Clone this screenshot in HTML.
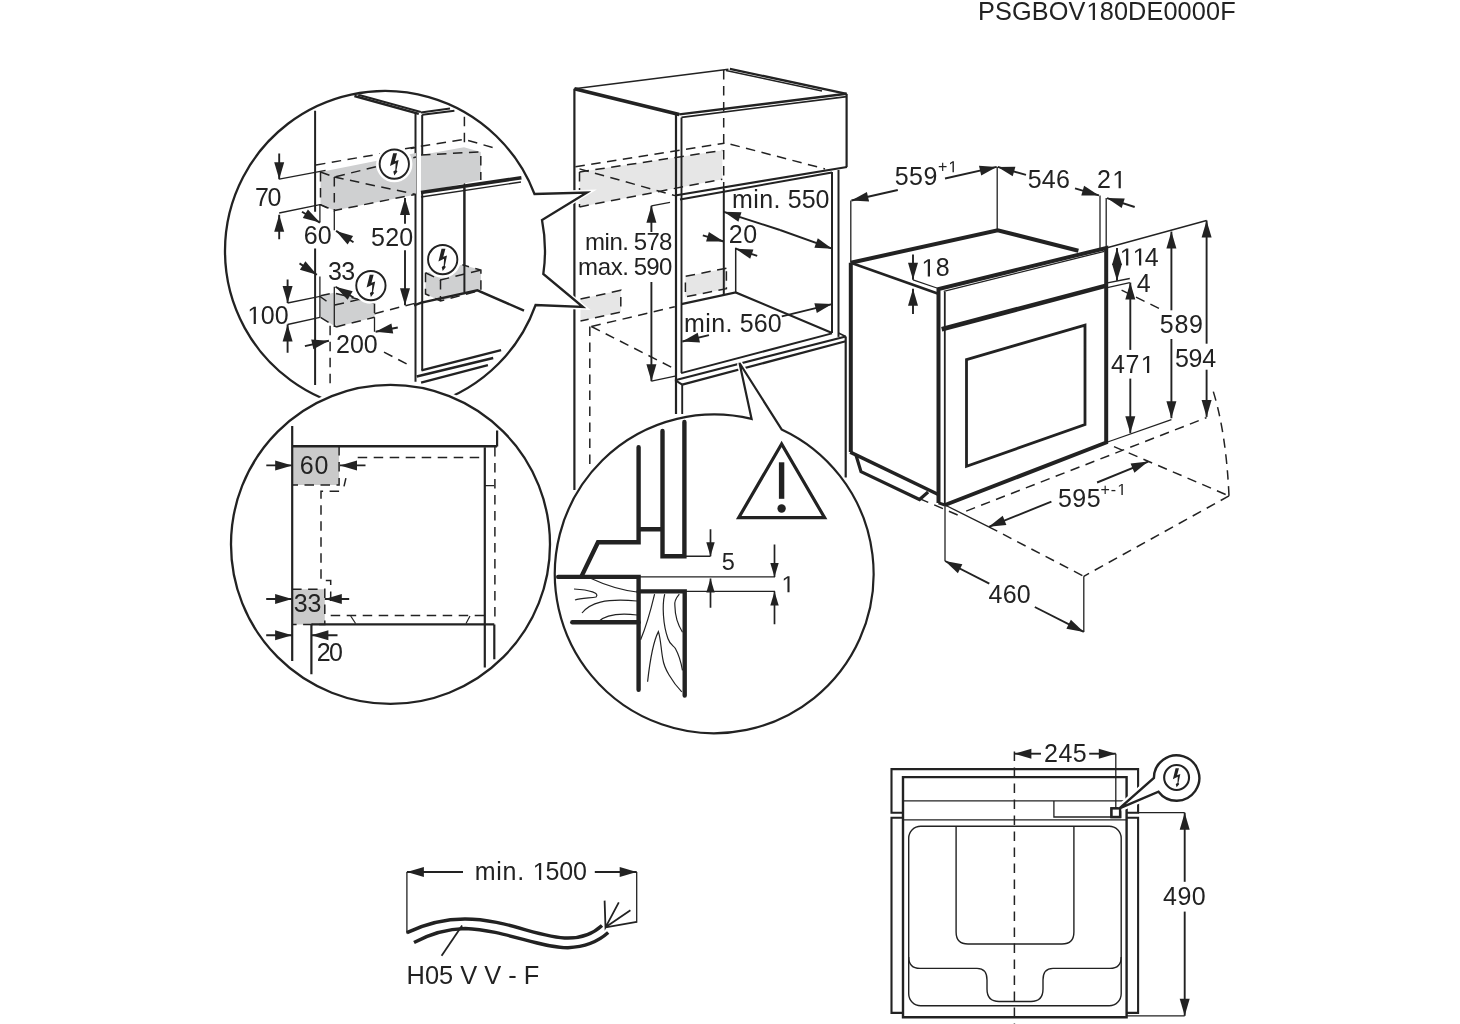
<!DOCTYPE html>
<html><head><meta charset="utf-8"><style>
html,body{margin:0;padding:0;background:#fff;}
svg{display:block;filter:blur(0.35px);}
text{font-family:"Liberation Sans",sans-serif;fill:#222;stroke:none;}
</style></head><body>
<svg width="1460" height="1024" viewBox="0 0 1460 1024" stroke="#222" fill="none">
<polygon points="1088.80,7.62 1088.80,5.52 1092.91,2.69 1094.96,2.69 1094.96,20.10 1092.73,20.10 1092.73,4.82" fill="#222" stroke="none"/>
<text x="978.02 995.01 1011.99 1031.78 1048.76 1068.55 1099.72 1113.90 1128.08 1146.46 1163.44 1177.62 1191.80 1205.98 1220.16" y="20.10" font-size="25.3">PSGBOV80DE0000F</text>
<polygon points="579.5,172.0 722.3,150.4 722.3,179.2 579.5,206.9" fill="#e6e6e6" stroke="none"/>
<polygon points="685.4,276.4 726.4,268.2 726.4,288.7 685.4,296.9" fill="#e6e6e6" stroke="none"/>
<polygon points="580.5,299.1 620.8,290.3 620.8,312.1 580.5,321.0" fill="#e6e6e6" stroke="none"/>
<line x1="574.4" y1="88.8" x2="728.5" y2="69.2" stroke-width="1.5" stroke-linecap="butt"/>
<line x1="729.9" y1="68.9" x2="846.6" y2="93.8" stroke-width="2.4" stroke-linecap="butt"/>
<line x1="726.0" y1="70.4" x2="822.0" y2="90.9" stroke-width="1.5" stroke-linecap="butt"/>
<line x1="574.4" y1="88.8" x2="679.2" y2="114.4" stroke-width="3.6" stroke-linecap="butt"/>
<line x1="679.2" y1="114.4" x2="846.6" y2="93.8" stroke-width="2.4" stroke-linecap="butt"/>
<line x1="681.5" y1="117.4" x2="846.6" y2="96.6" stroke-width="1.7" stroke-linecap="butt"/>
<line x1="574.4" y1="88.8" x2="574.4" y2="490.0" stroke-width="2.2" stroke-linecap="butt"/>
<line x1="676.0" y1="114.0" x2="676.0" y2="414.0" stroke-width="2.2" stroke-linecap="butt"/>
<line x1="681.5" y1="117.4" x2="681.5" y2="373.1" stroke-width="1.9" stroke-linecap="butt"/>
<line x1="682.2" y1="384.6" x2="682.2" y2="414.0" stroke-width="1.9" stroke-linecap="butt"/>
<line x1="846.6" y1="93.9" x2="846.6" y2="167.0" stroke-width="2.2" stroke-linecap="butt"/>
<line x1="675.0" y1="195.5" x2="847.0" y2="167.0" stroke-width="2.2" stroke-linecap="butt"/>
<line x1="680.0" y1="199.5" x2="832.0" y2="172.5" stroke-width="2.0" stroke-linecap="butt"/>
<polyline points="575.4,166.8 724.4,143.2" stroke-width="1.5" stroke-dasharray="9.5 6.5" fill="none" stroke-linecap="butt" stroke-linejoin="miter"/>
<polyline points="579.5,172.0 722.3,150.4" stroke-width="1.5" stroke-dasharray="9.5 6.5" fill="none" stroke-linecap="butt" stroke-linejoin="miter"/>
<polyline points="579.5,168.9 675.0,195.6" stroke-width="1.5" stroke-dasharray="9.5 6.5" fill="none" stroke-linecap="butt" stroke-linejoin="miter"/>
<polyline points="579.5,206.9 722.3,179.2" stroke-width="1.5" stroke-dasharray="9.5 6.5" fill="none" stroke-linecap="butt" stroke-linejoin="miter"/>
<polyline points="579.5,172.0 579.5,206.9" stroke-width="1.5" stroke-dasharray="9.5 6.5" fill="none" stroke-linecap="butt" stroke-linejoin="miter"/>
<polyline points="730.5,144.2 825.0,168.9" stroke-width="1.5" stroke-dasharray="9.5 6.5" fill="none" stroke-linecap="butt" stroke-linejoin="miter"/>
<polyline points="723.7,70.0 723.7,189.0" stroke-width="1.5" stroke-dasharray="9.5 6.5" fill="none" stroke-linecap="butt" stroke-linejoin="miter"/>
<line x1="832.0" y1="172.0" x2="832.0" y2="333.0" stroke-width="2.0" stroke-linecap="butt"/>
<line x1="838.5" y1="170.0" x2="838.5" y2="336.9" stroke-width="2.0" stroke-linecap="butt"/>
<line x1="723.8" y1="189.0" x2="723.8" y2="295.0" stroke-width="2.0" stroke-linecap="butt"/>
<line x1="735.7" y1="247.7" x2="735.7" y2="292.4" stroke-width="1.5" stroke-linecap="butt"/>
<polyline points="681.3,304.1 735.7,292.4 832.1,332.9" stroke-width="2.2" fill="none" stroke-linecap="butt" stroke-linejoin="miter"/>
<polyline points="726.4,268.2 685.4,276.4 685.4,296.9 726.4,288.7 726.4,268.2" stroke-width="1.5" stroke-dasharray="9.5 6.5" fill="none" stroke-linecap="butt" stroke-linejoin="miter"/>
<line x1="681.1" y1="373.1" x2="832.0" y2="333.4" stroke-width="2.0" stroke-linecap="butt"/>
<line x1="675.1" y1="380.2" x2="845.7" y2="336.5" stroke-width="2.2" stroke-linecap="butt"/>
<line x1="675.1" y1="380.2" x2="682.2" y2="384.6" stroke-width="2.0" stroke-linecap="butt"/>
<line x1="682.2" y1="384.6" x2="845.7" y2="341.3" stroke-width="2.2" stroke-linecap="butt"/>
<line x1="845.7" y1="336.5" x2="845.7" y2="477.5" stroke-width="2.2" stroke-linecap="butt"/>
<line x1="838.5" y1="333.0" x2="845.7" y2="336.5" stroke-width="1.6" stroke-linecap="butt"/>
<polyline points="580.5,299.1 620.8,290.3 620.8,312.1 580.5,321.0" stroke-width="1.5" stroke-dasharray="9.5 6.5" fill="none" stroke-linecap="butt" stroke-linejoin="miter"/>
<polyline points="591.4,326.5 674.8,306.7" stroke-width="1.5" stroke-dasharray="9.5 6.5" fill="none" stroke-linecap="butt" stroke-linejoin="miter"/>
<polyline points="589.8,326.5 589.8,470.0" stroke-width="1.5" stroke-dasharray="9.5 6.5" fill="none" stroke-linecap="butt" stroke-linejoin="miter"/>
<polyline points="591.4,326.5 674.8,368.9" stroke-width="1.5" stroke-dasharray="9.5 6.5" fill="none" stroke-linecap="butt" stroke-linejoin="miter"/>
<text x="731.94 753.17 759.13 773.44" y="207.70" font-size="25">min.</text>
<text x="787.70 801.64 815.57" y="207.70" font-size="25">550</text>
<line x1="780.0" y1="230.0" x2="723.8" y2="211.8" stroke-width="1.9" stroke-linecap="butt"/>
<polygon points="723.8,211.8 741.5,212.3 738.4,221.8" fill="#222" stroke="none"/>
<line x1="780.0" y1="230.0" x2="832.1" y2="248.7" stroke-width="1.9" stroke-linecap="butt"/>
<polygon points="832.1,248.7 814.4,247.7 817.8,238.3" fill="#222" stroke="none"/>
<text x="728.84 743.32" y="243.30" font-size="25">20</text>
<line x1="702.8" y1="235.4" x2="723.8" y2="241.5" stroke-width="1.9" stroke-linecap="butt"/>
<polygon points="723.8,241.5 706.1,241.6 708.9,232.0" fill="#222" stroke="none"/>
<line x1="757.2" y1="255.9" x2="735.7" y2="248.7" stroke-width="1.9" stroke-linecap="butt"/>
<polygon points="735.7,248.7 753.4,249.4 750.2,258.8" fill="#222" stroke="none"/>
<text x="584.91 604.48 609.39 622.32" y="250.20" font-size="24">min.</text>
<text x="633.74 646.42 659.10" y="250.20" font-size="24">578</text>
<text x="578.11 597.72 610.70 622.32" y="275.30" font-size="24">max.</text>
<text x="633.74 646.36 658.99" y="275.30" font-size="24">590</text>
<line x1="651.4" y1="232.0" x2="651.4" y2="205.8" stroke-width="1.9" stroke-linecap="butt"/>
<polygon points="651.4,205.8 656.4,222.8 646.4,222.8" fill="#222" stroke="none"/>
<line x1="651.4" y1="282.0" x2="651.4" y2="381.2" stroke-width="1.9" stroke-linecap="butt"/>
<polygon points="651.4,381.2 646.4,364.2 656.4,364.2" fill="#222" stroke="none"/>
<line x1="651.4" y1="205.8" x2="670.0" y2="202.3" stroke-width="1.3" stroke-linecap="butt"/>
<line x1="651.4" y1="381.2" x2="675.1" y2="376.1" stroke-width="1.3" stroke-linecap="butt"/>
<text x="684.04 705.24 711.16 725.44" y="331.75" font-size="25">min.</text>
<text x="739.70 753.69 767.67" y="331.75" font-size="25">560</text>
<line x1="709.0" y1="335.1" x2="682.3" y2="341.5" stroke-width="1.9" stroke-linecap="butt"/>
<polygon points="682.3,341.5 697.7,332.7 700.0,342.4" fill="#222" stroke="none"/>
<line x1="781.8" y1="316.4" x2="832.1" y2="304.1" stroke-width="1.9" stroke-linecap="butt"/>
<polygon points="832.1,304.1 816.8,313.0 814.4,303.3" fill="#222" stroke="none"/>
<line x1="850.8" y1="200.5" x2="850.8" y2="262.7" stroke-width="1.3" stroke-linecap="butt"/>
<line x1="997.2" y1="166.9" x2="997.2" y2="229.5" stroke-width="1.3" stroke-linecap="butt"/>
<line x1="1100.0" y1="195.4" x2="1100.0" y2="248.0" stroke-width="1.3" stroke-linecap="butt"/>
<line x1="1106.2" y1="198.1" x2="1106.2" y2="248.0" stroke-width="1.3" stroke-linecap="butt"/>
<polyline points="850.8,262.7 997.7,230.2 1078.4,250.8" stroke-width="4.0" fill="none" stroke-linecap="butt" stroke-linejoin="miter"/>
<line x1="850.8" y1="262.7" x2="937.6" y2="293.5" stroke-width="2.6" stroke-linecap="butt"/>
<polyline points="938.5,502.9 938.5,289.0 1106.2,248.0 1106.2,442.5 945.0,505.0" stroke-width="4.0" fill="none" stroke-linecap="butt" stroke-linejoin="miter"/>
<line x1="944.8" y1="292.0" x2="944.8" y2="505.0" stroke-width="1.8" stroke-linecap="butt"/>
<line x1="941.7" y1="329.3" x2="1106.2" y2="285.6" stroke-width="4.6" stroke-linecap="butt"/>
<line x1="943.7" y1="291.3" x2="1104.4" y2="251.3" stroke-width="1.3" stroke-linecap="butt"/>
<line x1="850.8" y1="262.7" x2="850.8" y2="452.0" stroke-width="4.0" stroke-linecap="butt"/>
<line x1="850.2" y1="452.2" x2="938.3" y2="494.5" stroke-width="3.6" stroke-linecap="butt"/>
<polyline points="856.1,455.5 861.0,471.6 919.5,499.5 928.1,492.0" stroke-width="3.2" fill="none" stroke-linecap="butt" stroke-linejoin="miter"/>
<polyline points="938.5,502.9 945.0,505.0" stroke-width="3.0" fill="none" stroke-linecap="butt" stroke-linejoin="miter"/>
<polygon points="966.5,359.6 1085.0,325.2 1085.0,424.6 966.5,466.2" stroke-width="2.8" fill="none" stroke-linecap="butt" stroke-linejoin="miter"/>
<text x="894.70 909.04 923.38" y="184.70" font-size="25">559</text>
<polygon points="950.00,164.41 950.00,163.08 952.60,161.29 953.90,161.29 953.90,172.30 952.49,172.30 952.49,162.64" fill="#222" stroke="none"/>
<text x="938.02" y="172.30" font-size="16">+</text>
<line x1="897.8" y1="190.0" x2="851.4" y2="200.5" stroke-width="1.9" stroke-linecap="butt"/>
<polygon points="851.4,200.5 866.9,191.9 869.1,201.6" fill="#222" stroke="none"/>
<line x1="945.0" y1="178.5" x2="996.7" y2="166.9" stroke-width="1.9" stroke-linecap="butt"/>
<polygon points="996.7,166.9 981.2,175.5 979.0,165.7" fill="#222" stroke="none"/>
<text x="1027.70 1041.85 1055.99" y="188.30" font-size="25">546</text>
<line x1="1026.0" y1="174.9" x2="997.7" y2="166.9" stroke-width="1.9" stroke-linecap="butt"/>
<polygon points="997.7,166.9 1015.4,166.7 1012.7,176.3" fill="#222" stroke="none"/>
<line x1="1075.0" y1="188.3" x2="1099.0" y2="195.4" stroke-width="1.9" stroke-linecap="butt"/>
<polygon points="1099.0,195.4 1081.3,195.4 1084.1,185.8" fill="#222" stroke="none"/>
<polygon points="1114.71,175.97 1114.71,173.90 1118.77,171.10 1120.80,171.10 1120.80,188.30 1118.59,188.30 1118.59,173.20" fill="#222" stroke="none"/>
<text x="1096.94" y="188.30" font-size="25">2</text>
<line x1="1134.7" y1="207.0" x2="1107.0" y2="198.1" stroke-width="1.9" stroke-linecap="butt"/>
<polygon points="1107.0,198.1 1124.7,198.5 1121.7,208.1" fill="#222" stroke="none"/>
<polygon points="923.90,264.07 923.90,262.00 927.96,259.20 929.99,259.20 929.99,276.40 927.78,276.40 927.78,261.30" fill="#222" stroke="none"/>
<text x="935.68" y="276.40" font-size="25">8</text>
<line x1="913.0" y1="254.5" x2="913.0" y2="279.8" stroke-width="1.9" stroke-linecap="butt"/>
<polygon points="913.0,279.8 908.0,262.8 918.0,262.8" fill="#222" stroke="none"/>
<line x1="913.0" y1="314.0" x2="913.0" y2="288.7" stroke-width="1.9" stroke-linecap="butt"/>
<polygon points="913.0,288.7 918.0,305.7 908.0,305.7" fill="#222" stroke="none"/>
<line x1="913.0" y1="279.8" x2="936.9" y2="288.0" stroke-width="1.3" stroke-linecap="butt"/>
<polygon points="1122.20,253.27 1122.20,251.20 1126.26,248.40 1128.29,248.40 1128.29,265.60 1126.08,265.60 1126.08,250.50" fill="#222" stroke="none"/>
<polygon points="1135.13,253.27 1135.13,251.20 1139.19,248.40 1141.22,248.40 1141.22,265.60 1139.01,265.60 1139.01,250.50" fill="#222" stroke="none"/>
<text x="1144.83" y="265.60" font-size="25">4</text>
<line x1="1117.0" y1="265.0" x2="1117.0" y2="248.0" stroke-width="1.9" stroke-linecap="butt"/>
<polygon points="1117.0,248.0 1122.0,265.0 1112.0,265.0" fill="#222" stroke="none"/>
<line x1="1117.0" y1="265.0" x2="1117.0" y2="280.8" stroke-width="1.9" stroke-linecap="butt"/>
<polygon points="1117.0,280.8 1112.0,263.8 1122.0,263.8" fill="#222" stroke="none"/>
<text x="1136.83" y="292.00" font-size="25">4</text>
<line x1="1106.2" y1="283.2" x2="1129.8" y2="278.5" stroke-width="1.3" stroke-linecap="butt"/>
<line x1="1106.2" y1="287.9" x2="1129.8" y2="282.6" stroke-width="1.3" stroke-linecap="butt"/>
<polygon points="1143.11,360.77 1143.11,358.70 1147.17,355.90 1149.20,355.90 1149.20,373.10 1146.99,373.10 1146.99,358.00" fill="#222" stroke="none"/>
<text x="1111.03 1125.46" y="373.10" font-size="25">47</text>
<line x1="1130.3" y1="349.9" x2="1130.3" y2="282.6" stroke-width="1.9" stroke-linecap="butt"/>
<polygon points="1130.3,282.6 1135.3,299.6 1125.3,299.6" fill="#222" stroke="none"/>
<line x1="1130.3" y1="378.6" x2="1130.3" y2="433.3" stroke-width="1.9" stroke-linecap="butt"/>
<polygon points="1130.3,433.3 1125.3,416.3 1135.3,416.3" fill="#222" stroke="none"/>
<text x="1159.80 1174.44 1189.08" y="332.80" font-size="25">589</text>
<line x1="1171.4" y1="310.3" x2="1171.4" y2="231.6" stroke-width="1.9" stroke-linecap="butt"/>
<polygon points="1171.4,231.6 1176.4,248.6 1166.4,248.6" fill="#222" stroke="none"/>
<line x1="1171.4" y1="339.0" x2="1171.4" y2="418.2" stroke-width="1.9" stroke-linecap="butt"/>
<polygon points="1171.4,418.2 1166.4,401.2 1176.4,401.2" fill="#222" stroke="none"/>
<text x="1174.90 1188.61 1202.33" y="367.00" font-size="25">594</text>
<line x1="1206.6" y1="343.7" x2="1206.6" y2="220.5" stroke-width="1.9" stroke-linecap="butt"/>
<polygon points="1206.6,220.5 1211.6,237.5 1201.6,237.5" fill="#222" stroke="none"/>
<line x1="1206.6" y1="369.7" x2="1206.6" y2="416.9" stroke-width="1.9" stroke-linecap="butt"/>
<polygon points="1206.6,416.9 1201.6,399.9 1211.6,399.9" fill="#222" stroke="none"/>
<line x1="1106.2" y1="248.0" x2="1206.6" y2="220.5" stroke-width="1.3" stroke-linecap="butt"/>
<line x1="1106.2" y1="442.5" x2="1171.4" y2="419.6" stroke-width="1.3" stroke-linecap="butt"/>
<polyline points="919.5,498.6 957.8,515.0" stroke-width="1.5" stroke-dasharray="9.5 6.5" fill="none" stroke-linecap="butt" stroke-linejoin="miter"/>
<polyline points="1121.6,290.2 1160.3,309.0" stroke-width="1.5" stroke-dasharray="9.5 6.5" fill="none" stroke-linecap="butt" stroke-linejoin="miter"/>
<polyline points="966.2,511.1 1206.6,417.6" stroke-width="1.5" stroke-dasharray="9.5 6.5" fill="none" stroke-linecap="butt" stroke-linejoin="miter"/>
<polyline points="1114.0,446.6 1229.0,495.9" stroke-width="1.5" stroke-dasharray="9.5 6.5" fill="none" stroke-linecap="butt" stroke-linejoin="miter"/>
<path d="M1229,495.9 Q1226,430 1212,387.5" stroke-width="1.5" stroke-dasharray="9.5 6.5"/>
<polyline points="1229.0,495.9 1083.8,576.3" stroke-width="1.5" stroke-dasharray="9.5 6.5" fill="none" stroke-linecap="butt" stroke-linejoin="miter"/>
<line x1="945.0" y1="505.0" x2="988.8" y2="526.8" stroke-width="1.3" stroke-linecap="butt"/>
<polyline points="988.8,526.8 1083.8,576.3" stroke-width="1.5" stroke-dasharray="9.5 6.5" fill="none" stroke-linecap="butt" stroke-linejoin="miter"/>
<line x1="945.0" y1="505.0" x2="945.0" y2="561.0" stroke-width="1.3" stroke-linecap="butt"/>
<line x1="1083.8" y1="576.3" x2="1083.8" y2="631.9" stroke-width="1.3" stroke-linecap="butt"/>
<text x="988.53 1002.70 1016.87" y="602.80" font-size="25">460</text>
<line x1="989.3" y1="583.6" x2="945.0" y2="561.0" stroke-width="1.9" stroke-linecap="butt"/>
<polygon points="945.0,561.0 962.4,564.3 957.9,573.2" fill="#222" stroke="none"/>
<line x1="1034.8" y1="607.0" x2="1083.8" y2="631.9" stroke-width="1.9" stroke-linecap="butt"/>
<polygon points="1083.8,631.9 1066.4,628.7 1070.9,619.7" fill="#222" stroke="none"/>
<text x="1057.90 1072.32 1086.75" y="506.50" font-size="25">595</text>
<polygon points="1118.90,487.01 1118.90,485.68 1121.50,483.89 1122.80,483.89 1122.80,494.90 1121.39,494.90 1121.39,485.24" fill="#222" stroke="none"/>
<text x="1100.42 1110.64" y="494.90" font-size="16">+-</text>
<line x1="1051.4" y1="501.6" x2="988.8" y2="526.8" stroke-width="1.9" stroke-linecap="butt"/>
<polygon points="988.8,526.8 1002.7,515.8 1006.4,525.1" fill="#222" stroke="none"/>
<line x1="1097.1" y1="482.5" x2="1148.2" y2="461.6" stroke-width="1.9" stroke-linecap="butt"/>
<polygon points="1148.2,461.6 1134.4,472.7 1130.6,463.4" fill="#222" stroke="none"/>
<path d="M542.0,220.0 A160,160 0 0 1 543.3,274.0 L583.0,307.0 L535.6,305.0 A160,160 0 1 1 534.5,194.0 L587.0,192.5 L542.0,220.0 Z" fill="#fff" stroke="#fff" stroke-width="5.3"/>
<path d="M542.0,220.0 A160,160 0 0 1 543.3,274.0 L583.0,307.0 L535.6,305.0 A160,160 0 1 1 534.5,194.0 L587.0,192.5 L542.0,220.0 Z" fill="#fff" stroke-width="2.3"/>
<clipPath id="c1"><circle cx="385" cy="251" r="159"/></clipPath><g clip-path="url(#c1)">
<line x1="354.4" y1="96.0" x2="418.8" y2="113.8" stroke-width="2.4" stroke-linecap="butt"/>
<line x1="358.2" y1="94.8" x2="420.8" y2="112.0" stroke-width="2.2" stroke-linecap="butt"/>
<line x1="420.8" y1="112.5" x2="450.0" y2="108.5" stroke-width="2.0" stroke-linecap="butt"/>
<line x1="422.2" y1="114.8" x2="454.4" y2="110.8" stroke-width="2.0" stroke-linecap="butt"/>
<line x1="315.1" y1="110.8" x2="315.1" y2="211.8" stroke-width="2.0" stroke-linecap="butt"/>
<line x1="315.1" y1="248.4" x2="315.1" y2="385.0" stroke-width="2.0" stroke-linecap="butt"/>
<line x1="415.5" y1="112.8" x2="415.5" y2="381.8" stroke-width="2.0" stroke-linecap="butt"/>
<line x1="422.2" y1="114.8" x2="422.2" y2="370.4" stroke-width="2.0" stroke-linecap="butt"/>
<line x1="464.4" y1="187.8" x2="464.4" y2="292.1" stroke-width="2.0" stroke-linecap="butt"/>
<polyline points="464.4,116.7 464.4,187.8" stroke-width="1.5" stroke-dasharray="9.5 6.5" fill="none" stroke-linecap="butt" stroke-linejoin="miter"/>
<polygon points="320.5,172.0 416.0,153.0 416.0,194.4 334.3,210.6 320.5,204.6" fill="#cfd0d1" stroke="none"/>
<polygon points="421.0,155.0 464.0,147.2 480.8,151.9 480.8,180.0 421.0,192.5" fill="#cfd0d1" stroke="none"/>
<polyline points="316.0,165.0 416.0,147.6" stroke-width="1.5" stroke-dasharray="9.5 6.5" fill="none" stroke-linecap="butt" stroke-linejoin="miter"/>
<polyline points="405.0,148.8 464.4,139.4 497.2,148.8" stroke-width="1.5" stroke-dasharray="9.5 6.5" fill="none" stroke-linecap="butt" stroke-linejoin="miter"/>
<polyline points="320.5,172.0 334.3,177.0 416.0,157.0" stroke-width="1.5" stroke-dasharray="9.5 6.5" fill="none" stroke-linecap="butt" stroke-linejoin="miter"/>
<polyline points="334.3,177.0 416.0,194.4" stroke-width="1.5" stroke-dasharray="9.5 6.5" fill="none" stroke-linecap="butt" stroke-linejoin="miter"/>
<polyline points="320.5,172.0 320.5,204.6 334.3,210.6" stroke-width="1.5" stroke-dasharray="9.5 6.5" fill="none" stroke-linecap="butt" stroke-linejoin="miter"/>
<polyline points="334.3,177.0 334.3,210.6 415.2,194.4" stroke-width="1.5" stroke-dasharray="9.5 6.5" fill="none" stroke-linecap="butt" stroke-linejoin="miter"/>
<polyline points="421.0,155.0 480.8,151.9 480.8,180.0" stroke-width="1.5" stroke-dasharray="9.5 6.5" fill="none" stroke-linecap="butt" stroke-linejoin="miter"/>
<line x1="421.0" y1="192.5" x2="521.4" y2="177.7" stroke-width="3.6" stroke-linecap="butt"/>
<line x1="421.0" y1="197.0" x2="521.0" y2="182.0" stroke-width="1.3" stroke-linecap="butt"/>
<text x="255.12 267.47" y="205.80" font-size="25">70</text>
<line x1="279.2" y1="179.2" x2="325.6" y2="170.4" stroke-width="1.3" stroke-linecap="butt"/>
<polyline points="279.2,213.0 319.9,204.6 327.7,208.2" stroke-width="1.3" fill="none" stroke-linecap="butt" stroke-linejoin="miter"/>
<line x1="279.2" y1="153.4" x2="279.2" y2="179.2" stroke-width="1.9" stroke-linecap="butt"/>
<polygon points="279.2,179.2 274.2,162.2 284.2,162.2" fill="#222" stroke="none"/>
<line x1="279.2" y1="239.3" x2="279.2" y2="214.8" stroke-width="1.9" stroke-linecap="butt"/>
<polygon points="279.2,214.8 284.2,231.8 274.2,231.8" fill="#222" stroke="none"/>
<line x1="319.9" y1="204.6" x2="319.9" y2="222.6" stroke-width="1.3" stroke-linecap="butt"/>
<line x1="302.0" y1="211.8" x2="319.9" y2="222.6" stroke-width="1.9" stroke-linecap="butt"/>
<polygon points="319.9,222.6 302.8,218.1 307.9,209.5" fill="#222" stroke="none"/>
<line x1="334.3" y1="211.0" x2="334.3" y2="230.3" stroke-width="1.3" stroke-linecap="butt"/>
<line x1="353.5" y1="242.3" x2="336.1" y2="230.9" stroke-width="1.9" stroke-linecap="butt"/>
<polygon points="336.1,230.9 353.1,236.0 347.6,244.4" fill="#222" stroke="none"/>
<text x="303.63 317.77" y="244.10" font-size="25">60</text>
<text x="371.00 385.14 399.27" y="245.90" font-size="25">520</text>
<line x1="405.0" y1="223.7" x2="405.0" y2="198.0" stroke-width="1.9" stroke-linecap="butt"/>
<polygon points="405.0,198.0 410.0,215.0 400.0,215.0" fill="#222" stroke="none"/>
<line x1="405.0" y1="250.3" x2="405.0" y2="305.3" stroke-width="1.9" stroke-linecap="butt"/>
<polygon points="405.0,305.3 400.0,288.3 410.0,288.3" fill="#222" stroke="none"/>
<circle cx="394.3" cy="164.1" r="16.15" stroke="#fff" stroke-width="4" fill="#fff"/>
<circle cx="394.3" cy="164.1" r="14.65" stroke-width="1.9" fill="#fff"/>
<polygon points="393.13,153.36 397.03,153.36 394.89,161.37 398.60,160.00 396.45,170.35 397.43,171.52 394.30,175.43 393.32,171.52 395.28,170.35 395.67,163.32 390.00,166.05" fill="#222" stroke="none"/>
<polygon points="320.5,295.8 333.7,292.8 374.5,303.5 374.5,317.3 336.1,326.9 320.5,317.3" fill="#cfd0d1" stroke="none"/>
<polyline points="320.5,295.8 333.7,292.8 374.5,303.5" stroke-width="1.5" stroke-dasharray="9.5 6.5" fill="none" stroke-linecap="butt" stroke-linejoin="miter"/>
<polyline points="334.7,305.0 374.5,296.0" stroke-width="1.5" stroke-dasharray="9.5 6.5" fill="none" stroke-linecap="butt" stroke-linejoin="miter"/>
<polyline points="336.1,326.9 374.5,317.3" stroke-width="1.5" stroke-dasharray="9.5 6.5" fill="none" stroke-linecap="butt" stroke-linejoin="miter"/>
<polyline points="374.5,303.5 374.5,317.3" stroke-width="1.5" stroke-dasharray="9.5 6.5" fill="none" stroke-linecap="butt" stroke-linejoin="miter"/>
<polyline points="374.5,313.7 420.0,302.0" stroke-width="1.5" stroke-dasharray="9.5 6.5" fill="none" stroke-linecap="butt" stroke-linejoin="miter"/>
<polyline points="320.5,317.3 336.1,326.9" stroke-width="1.5" stroke-dasharray="9.5 6.5" fill="none" stroke-linecap="butt" stroke-linejoin="miter"/>
<polyline points="330.1,325.7 330.1,385.0" stroke-width="1.5" stroke-dasharray="9.5 6.5" fill="none" stroke-linecap="butt" stroke-linejoin="miter"/>
<polyline points="384.0,352.1 406.8,364.0" stroke-width="1.5" stroke-dasharray="9.5 6.5" fill="none" stroke-linecap="butt" stroke-linejoin="miter"/>
<text x="327.95 341.29" y="279.60" font-size="25">33</text>
<polygon points="249.80,311.57 249.80,309.50 253.86,306.70 255.89,306.70 255.89,323.90 253.68,323.90 253.68,308.80" fill="#222" stroke="none"/>
<text x="260.63 274.67" y="323.90" font-size="25">00</text>
<text x="336.04 349.96 363.87" y="353.30" font-size="25">200</text>
<line x1="319.9" y1="276.6" x2="319.9" y2="317.3" stroke-width="1.3" stroke-linecap="butt"/>
<line x1="299.5" y1="263.4" x2="316.9" y2="274.8" stroke-width="1.9" stroke-linecap="butt"/>
<polygon points="316.9,274.8 299.9,269.7 305.4,261.3" fill="#222" stroke="none"/>
<line x1="353.5" y1="297.5" x2="335.5" y2="286.8" stroke-width="1.9" stroke-linecap="butt"/>
<polygon points="335.5,286.8 352.7,291.2 347.6,299.8" fill="#222" stroke="none"/>
<line x1="334.3" y1="286.8" x2="334.3" y2="326.9" stroke-width="1.3" stroke-linecap="butt"/>
<line x1="287.6" y1="279.6" x2="287.6" y2="303.0" stroke-width="1.9" stroke-linecap="butt"/>
<polygon points="287.6,303.0 282.6,286.0 292.6,286.0" fill="#222" stroke="none"/>
<line x1="287.6" y1="352.7" x2="287.6" y2="324.5" stroke-width="1.9" stroke-linecap="butt"/>
<polygon points="287.6,324.5 292.6,341.5 282.6,341.5" fill="#222" stroke="none"/>
<polyline points="287.6,303.0 319.9,296.4 326.5,301.1" stroke-width="1.3" fill="none" stroke-linecap="butt" stroke-linejoin="miter"/>
<line x1="287.6" y1="324.5" x2="319.9" y2="317.3" stroke-width="1.3" stroke-linecap="butt"/>
<line x1="304.9" y1="346.1" x2="328.9" y2="340.7" stroke-width="1.9" stroke-linecap="butt"/>
<polygon points="328.9,340.7 313.4,349.3 311.2,339.6" fill="#222" stroke="none"/>
<line x1="374.5" y1="317.3" x2="374.5" y2="331.7" stroke-width="1.3" stroke-linecap="butt"/>
<line x1="397.8" y1="327.5" x2="375.6" y2="331.7" stroke-width="1.9" stroke-linecap="butt"/>
<polygon points="375.6,331.7 391.4,323.6 393.2,333.5" fill="#222" stroke="none"/>
<circle cx="370.9" cy="285.6" r="16.15" stroke="#fff" stroke-width="4" fill="#fff"/>
<circle cx="370.9" cy="285.6" r="14.65" stroke-width="1.9" fill="#fff"/>
<polygon points="369.73,274.86 373.63,274.86 371.49,282.87 375.20,281.50 373.05,291.85 374.03,293.02 370.90,296.93 369.92,293.02 371.88,291.85 372.27,284.82 366.60,287.55" fill="#222" stroke="none"/>
<polygon points="425.5,272.8 462.4,264.8 480.9,270.1 480.9,290.3 440.5,300.9 425.5,293.9" fill="#cfd0d1" stroke="none"/>
<polyline points="425.5,272.8 440.5,280.0 480.9,270.1" stroke-width="1.5" stroke-dasharray="9.5 6.5" fill="none" stroke-linecap="butt" stroke-linejoin="miter"/>
<polyline points="440.5,280.0 440.5,300.9" stroke-width="1.5" stroke-dasharray="9.5 6.5" fill="none" stroke-linecap="butt" stroke-linejoin="miter"/>
<polyline points="425.5,272.8 425.5,293.9 440.5,300.9 480.9,290.3 480.9,270.1 462.4,264.8" stroke-width="1.5" stroke-dasharray="9.5 6.5" fill="none" stroke-linecap="butt" stroke-linejoin="miter"/>
<circle cx="442.7" cy="259.6" r="16.15" stroke="#fff" stroke-width="4" fill="#fff"/>
<circle cx="442.7" cy="259.6" r="14.65" stroke-width="1.9" fill="#fff"/>
<polygon points="441.53,248.86 445.43,248.86 443.29,256.87 447.00,255.50 444.85,265.85 445.83,267.02 442.70,270.93 441.72,267.02 443.68,265.85 444.07,258.82 438.40,261.55" fill="#222" stroke="none"/>
<line x1="464.4" y1="188.0" x2="464.4" y2="292.1" stroke-width="2.0" stroke-linecap="butt"/>
<polyline points="414.0,305.3 421.5,302.7 477.4,290.3 524.0,310.6" stroke-width="2.4" fill="none" stroke-linecap="butt" stroke-linejoin="miter"/>
<line x1="421.5" y1="370.4" x2="501.1" y2="350.1" stroke-width="2.4" stroke-linecap="butt"/>
<line x1="416.7" y1="376.5" x2="493.2" y2="358.0" stroke-width="2.4" stroke-linecap="butt"/>
<line x1="421.1" y1="382.7" x2="487.9" y2="365.1" stroke-width="2.4" stroke-linecap="butt"/>
</g>
<circle cx="390.5" cy="544.4" r="159.5" stroke="#fff" stroke-width="7" fill="#fff"/>
<circle cx="390.5" cy="544.4" r="159.5" stroke-width="2.3" fill="#fff"/>
<clipPath id="c2"><circle cx="390.5" cy="544.4" r="158.5"/></clipPath><g clip-path="url(#c2)">
<polygon points="292.2,445.9 339.1,445.9 339.1,484.9 292.2,484.9" fill="#cacaca" stroke="none"/>
<polygon points="292.1,589.3 324.8,589.3 324.8,624.4 292.1,624.4" fill="#cacaca" stroke="none"/>
<line x1="292.2" y1="425.9" x2="292.2" y2="661.0" stroke-width="2.2" stroke-linecap="butt"/>
<line x1="292.0" y1="446.2" x2="497.1" y2="446.2" stroke-width="2.4" stroke-linecap="butt"/>
<line x1="497.1" y1="430.4" x2="497.1" y2="446.5" stroke-width="2.2" stroke-linecap="butt"/>
<line x1="484.8" y1="447.3" x2="484.8" y2="667.5" stroke-width="2.2" stroke-linecap="butt"/>
<polyline points="339.1,446.0 339.1,484.9 292.2,484.9" stroke-width="1.5" stroke-dasharray="9.5 6.5" fill="none" stroke-linecap="butt" stroke-linejoin="miter"/>
<polyline points="357.7,457.6 484.8,457.6" stroke-width="1.5" stroke-dasharray="9.5 6.5" fill="none" stroke-linecap="butt" stroke-linejoin="miter"/>
<polyline points="494.9,447.0 494.9,621.0" stroke-width="1.5" stroke-dasharray="9.5 6.5" fill="none" stroke-linecap="butt" stroke-linejoin="miter"/>
<polyline points="345.9,478.1 344.0,486.4" stroke-width="1.5" stroke-dasharray="9.5 6.5" fill="none" stroke-linecap="butt" stroke-linejoin="miter"/>
<polyline points="339.1,491.3 321.0,491.3 321.0,580.4 330.7,580.4 330.7,607.3" stroke-width="1.5" stroke-dasharray="9.5 6.5" fill="none" stroke-linecap="butt" stroke-linejoin="miter"/>
<polyline points="292.1,589.3 324.8,589.3 324.8,624.4 292.1,624.4" stroke-width="1.5" stroke-dasharray="9.5 6.5" fill="none" stroke-linecap="butt" stroke-linejoin="miter"/>
<polyline points="330.7,615.6 484.8,615.6" stroke-width="1.5" stroke-dasharray="9.5 6.5" fill="none" stroke-linecap="butt" stroke-linejoin="miter"/>
<line x1="311.4" y1="624.4" x2="494.3" y2="624.4" stroke-width="2.4" stroke-linecap="butt"/>
<line x1="494.3" y1="624.4" x2="494.3" y2="659.3" stroke-width="2.2" stroke-linecap="butt"/>
<line x1="311.4" y1="624.4" x2="311.4" y2="674.2" stroke-width="2.2" stroke-linecap="butt"/>
<line x1="350.7" y1="616.0" x2="355.6" y2="623.5" stroke-width="1.2" stroke-linecap="butt"/>
<line x1="470.0" y1="616.0" x2="466.0" y2="623.5" stroke-width="1.2" stroke-linecap="butt"/>
<polyline points="484.8,485.6 494.0,485.6" stroke-width="1.3" fill="none" stroke-linecap="butt" stroke-linejoin="miter"/>
<text x="299.73 314.47" y="473.70" font-size="25">60</text>
<text x="293.65 307.59" y="612.20" font-size="25">33</text>
<text x="316.74 328.97" y="661.10" font-size="25">20</text>
<line x1="266.3" y1="465.4" x2="292.2" y2="465.4" stroke-width="1.9" stroke-linecap="butt"/>
<polygon points="292.2,465.4 275.2,470.4 275.2,460.4" fill="#222" stroke="none"/>
<line x1="365.5" y1="465.4" x2="340.0" y2="465.4" stroke-width="1.9" stroke-linecap="butt"/>
<polygon points="340.0,465.4 357.0,460.4 357.0,470.4" fill="#222" stroke="none"/>
<line x1="266.2" y1="599.0" x2="292.1" y2="599.0" stroke-width="1.9" stroke-linecap="butt"/>
<polygon points="292.1,599.0 275.1,604.0 275.1,594.0" fill="#222" stroke="none"/>
<line x1="349.2" y1="599.0" x2="324.8" y2="599.0" stroke-width="1.9" stroke-linecap="butt"/>
<polygon points="324.8,599.0 341.8,594.0 341.8,604.0" fill="#222" stroke="none"/>
<line x1="266.2" y1="635.2" x2="292.1" y2="635.2" stroke-width="1.9" stroke-linecap="butt"/>
<polygon points="292.1,635.2 275.1,640.2 275.1,630.2" fill="#222" stroke="none"/>
<line x1="337.5" y1="635.2" x2="311.4" y2="635.2" stroke-width="1.9" stroke-linecap="butt"/>
<polygon points="311.4,635.2 328.4,630.2 328.4,640.2" fill="#222" stroke="none"/>
</g>
<path d="M781.6,429.4 A159.4,159.4 0 1 1 751.6,418.9 L739.5,363.0 L781.6,429.4 Z" fill="#fff" stroke="#fff" stroke-width="5.2"/>
<path d="M781.6,429.4 A159.4,159.4 0 1 1 751.6,418.9 L739.5,363.0 L781.6,429.4 Z" fill="#fff" stroke-width="2.2"/>
<clipPath id="c3"><circle cx="714" cy="573.8" r="158.4"/></clipPath><g clip-path="url(#c3)">
<polyline points="638.6,447.3 638.6,542.2 598.0,542.2 581.6,576.1" stroke-width="4.4" fill="none" stroke-linecap="round" stroke-linejoin="miter"/>
<line x1="638.6" y1="529.3" x2="662.5" y2="529.3" stroke-width="4.4" stroke-linecap="butt"/>
<polyline points="662.5,431.0 662.5,556.2 684.4,556.2 684.4,422.0" stroke-width="4.4" fill="none" stroke-linecap="round" stroke-linejoin="miter"/>
<polyline points="558.2,576.9 638.6,576.9 638.6,689.8" stroke-width="4.4" fill="none" stroke-linecap="round" stroke-linejoin="miter"/>
<line x1="572.3" y1="622.3" x2="638.6" y2="622.3" stroke-width="4.4" stroke-linecap="round"/>
<polyline points="638.6,591.4 684.7,591.4 684.7,695.6" stroke-width="4.4" fill="none" stroke-linecap="round" stroke-linejoin="miter"/>
<line x1="638.6" y1="576.9" x2="775.0" y2="576.9" stroke-width="1.4" stroke-linecap="butt"/>
<line x1="684.7" y1="591.4" x2="775.0" y2="591.4" stroke-width="1.4" stroke-linecap="butt"/>
<line x1="684.4" y1="556.2" x2="710.5" y2="556.2" stroke-width="1.4" stroke-linecap="butt"/>
<line x1="710.5" y1="529.3" x2="710.5" y2="556.2" stroke-width="1.7" stroke-linecap="butt"/>
<polygon points="710.5,556.2 706.3,542.2 714.7,542.2" fill="#222" stroke="none"/>
<line x1="710.5" y1="607.8" x2="710.5" y2="578.5" stroke-width="1.7" stroke-linecap="butt"/>
<polygon points="710.5,578.5 714.7,592.5 706.3,592.5" fill="#222" stroke="none"/>
<line x1="774.5" y1="544.5" x2="774.5" y2="576.9" stroke-width="1.7" stroke-linecap="butt"/>
<polygon points="774.5,576.9 770.3,562.9 778.7,562.9" fill="#222" stroke="none"/>
<line x1="774.5" y1="624.2" x2="774.5" y2="591.4" stroke-width="1.7" stroke-linecap="butt"/>
<polygon points="774.5,591.4 778.7,605.4 770.3,605.4" fill="#222" stroke="none"/>
<text x="721.66" y="569.70" font-size="23.5">5</text>
<polygon points="783.80,580.71 783.80,578.76 787.62,576.13 789.53,576.13 789.53,592.30 787.45,592.30 787.45,578.11" fill="#222" stroke="none"/>
<polygon points="781.6,444.0 738.7,517.7 824.6,517.7" stroke-width="3.2" fill="none" stroke-linecap="butt" stroke-linejoin="miter"/>
<rect x="778.9" y="462.3" width="5.4" height="36.5" fill="#222" stroke="none"/>
<circle cx="781.6" cy="508.5" r="4.2" fill="#222" stroke="none"/>
<path d="M590,578 C605,585 620,590 637,592 M574,589 C590,590 600,593 596,597 C590,598 580,598 575,600 M582,613 C590,603 605,598 637,601 M598,622 C605,615 620,613 637,615" stroke-width="1.2"/>
<path d="M654.6,594.1 C652,605 648,622 640.6,639.8 M647.6,681.7 C650,660 654,640 658.4,631.6 C661,640 661,650 662.8,658.8 C664,668 672,682 681.8,691.8 M664.7,594.1 C662,605 663,625 667.9,638.5 C670,645 674,646 675.5,648.7 C679,655 681,662 682.5,670.3 M679.3,594.1 C676,598 674,602 674.9,606 C675,614 678,625 682.5,632.2" stroke-width="1.2"/>
</g>
<line x1="406.9" y1="872.0" x2="406.9" y2="933.5" stroke-width="1.3" stroke-linecap="butt"/>
<line x1="636.7" y1="872.0" x2="636.7" y2="922.8" stroke-width="1.3" stroke-linecap="butt"/>
<line x1="463.0" y1="872.0" x2="406.9" y2="872.0" stroke-width="1.9" stroke-linecap="butt"/>
<polygon points="406.9,872.0 423.9,867.0 423.9,877.0" fill="#222" stroke="none"/>
<line x1="594.8" y1="872.0" x2="636.7" y2="872.0" stroke-width="1.9" stroke-linecap="butt"/>
<polygon points="636.7,872.0 619.7,877.0 619.7,867.0" fill="#222" stroke="none"/>
<text x="474.74 496.27 502.53 517.14" y="880.10" font-size="25">min.</text>
<polygon points="535.10,867.77 535.10,865.70 539.16,862.90 541.19,862.90 541.19,880.10 538.98,880.10 538.98,865.00" fill="#222" stroke="none"/>
<text x="545.58 559.27 572.97" y="880.10" font-size="25">500</text>
<path d="M406.9,932.6 C425,924 445,919 465,919 C505,919 540,938 568,938 C585,938 595,932 602,925.5" stroke-width="3.4"/>
<path d="M414,942.4 C430,934 445,929 465,928.5 C505,930 540,948 568,947.7 C588,947 600,940 608.2,932.6" stroke-width="3.4"/>
<polyline points="604.6,900.6 605.5,927.3 618.8,902.3" stroke-width="1.8" fill="none" stroke-linecap="butt" stroke-linejoin="miter"/>
<polyline points="605.5,927.3 630.4,910.3" stroke-width="1.8" fill="none" stroke-linecap="butt" stroke-linejoin="miter"/>
<polyline points="605.5,927.3 636.7,921.9" stroke-width="1.8" fill="none" stroke-linecap="butt" stroke-linejoin="miter"/>
<line x1="462.1" y1="925.5" x2="441.6" y2="955.8" stroke-width="1.8" stroke-linecap="butt"/>
<text x="406.62 424.95 439.07 460.24 484.22 508.20 523.70" y="983.90" font-size="25.4">H05VV-F</text>
<polyline points="903.0,812.7 891.5,812.7 891.5,769.1 1138.1,769.1 1138.1,812.7 1126.6,812.7" stroke-width="2.1" fill="none" stroke-linecap="butt" stroke-linejoin="miter"/>
<polyline points="903.0,817.7 891.5,817.7 891.5,1012.9 903.0,1012.9" stroke-width="2.1" fill="none" stroke-linecap="butt" stroke-linejoin="miter"/>
<polyline points="1126.6,817.7 1138.1,817.7 1138.1,1012.9 1126.6,1012.9" stroke-width="2.1" fill="none" stroke-linecap="butt" stroke-linejoin="miter"/>
<polygon points="903.0,777.1 1126.6,777.1 1126.6,1017.2 903.0,1017.2" stroke-width="2.4" fill="none" stroke-linecap="butt" stroke-linejoin="miter"/>
<line x1="903.0" y1="800.9" x2="1126.6" y2="800.9" stroke-width="1.3" stroke-linecap="butt"/>
<line x1="903.0" y1="819.9" x2="1126.6" y2="819.9" stroke-width="1.3" stroke-linecap="butt"/>
<polyline points="1053.9,800.9 1053.9,817.0 1120.8,817.0" stroke-width="1.3" fill="none" stroke-linecap="butt" stroke-linejoin="miter"/>
<rect x="1111.5" y="808.4" width="8.6" height="8.6" stroke-width="2.4" fill="#fff"/>
<polyline points="1014.4,751.5 1014.4,1024.0" stroke-width="1.5" stroke-dasharray="9.5 6.5" fill="none" stroke-linecap="butt" stroke-linejoin="miter"/>
<line x1="1115.8" y1="753.7" x2="1115.8" y2="808.4" stroke-width="1.3" stroke-linecap="butt"/>
<line x1="1041.0" y1="753.7" x2="1014.4" y2="753.7" stroke-width="1.9" stroke-linecap="butt"/>
<polygon points="1014.4,753.7 1031.4,748.7 1031.4,758.7" fill="#222" stroke="none"/>
<line x1="1089.2" y1="753.7" x2="1115.8" y2="753.7" stroke-width="1.9" stroke-linecap="butt"/>
<polygon points="1115.8,753.7 1098.8,758.7 1098.8,748.7" fill="#222" stroke="none"/>
<text x="1044.04 1058.39 1072.75" y="761.60" font-size="25">245</text>
<path d="M1119.4,808.4 L1153.9,778 A22.7,22.7 0 1 1 1158.5,791.7 Z" fill="#fff" stroke="#fff" stroke-width="7"/>
<path d="M1119.4,808.4 L1153.9,778 A22.7,22.7 0 1 1 1158.5,791.7 Z" fill="#fff" stroke-width="2.4"/>
<rect x="1111.5" y="808.4" width="8.6" height="8.6" stroke-width="2.4" fill="#fff"/>
<circle cx="1176.6" cy="777.5" r="12.45" stroke-width="2.1" fill="#fff"/>
<polygon points="1175.59,768.21 1178.96,768.21 1177.11,775.14 1180.32,773.95 1178.46,782.91 1179.31,783.92 1176.60,787.30 1175.75,783.92 1177.45,782.91 1177.79,776.83 1172.88,779.19" fill="#222" stroke="none"/>
<line x1="1138.1" y1="812.7" x2="1184.7" y2="812.7" stroke-width="1.3" stroke-linecap="butt"/>
<line x1="1126.6" y1="1015.8" x2="1184.7" y2="1015.8" stroke-width="1.3" stroke-linecap="butt"/>
<line x1="1184.7" y1="881.8" x2="1184.7" y2="812.7" stroke-width="1.9" stroke-linecap="butt"/>
<polygon points="1184.7,812.7 1189.7,829.7 1179.7,829.7" fill="#222" stroke="none"/>
<line x1="1184.7" y1="911.6" x2="1184.7" y2="1015.8" stroke-width="1.9" stroke-linecap="butt"/>
<polygon points="1184.7,1015.8 1179.7,998.8 1189.7,998.8" fill="#222" stroke="none"/>
<text x="1163.03 1177.40 1191.77" y="905.30" font-size="25">490</text>
<rect x="908.7" y="826.3" width="212.5" height="179.4" rx="12" stroke-width="1.4"/>
<path d="M956.1,826.3 V932 Q956.1,944 968,944 H1062 Q1073.9,944 1073.9,932 V826.3" stroke-width="1.4"/>
<path d="M908.7,957 Q908.7,968.4 920,968.4 H977 Q987,968.4 987,980 V989 Q987,1001.5 999,1001.5 H1031 Q1043,1001.5 1043,989 V980 Q1043,968.4 1053,968.4 H1110 Q1121.2,968.4 1121.2,957" stroke-width="1.4"/>
</svg></body></html>
